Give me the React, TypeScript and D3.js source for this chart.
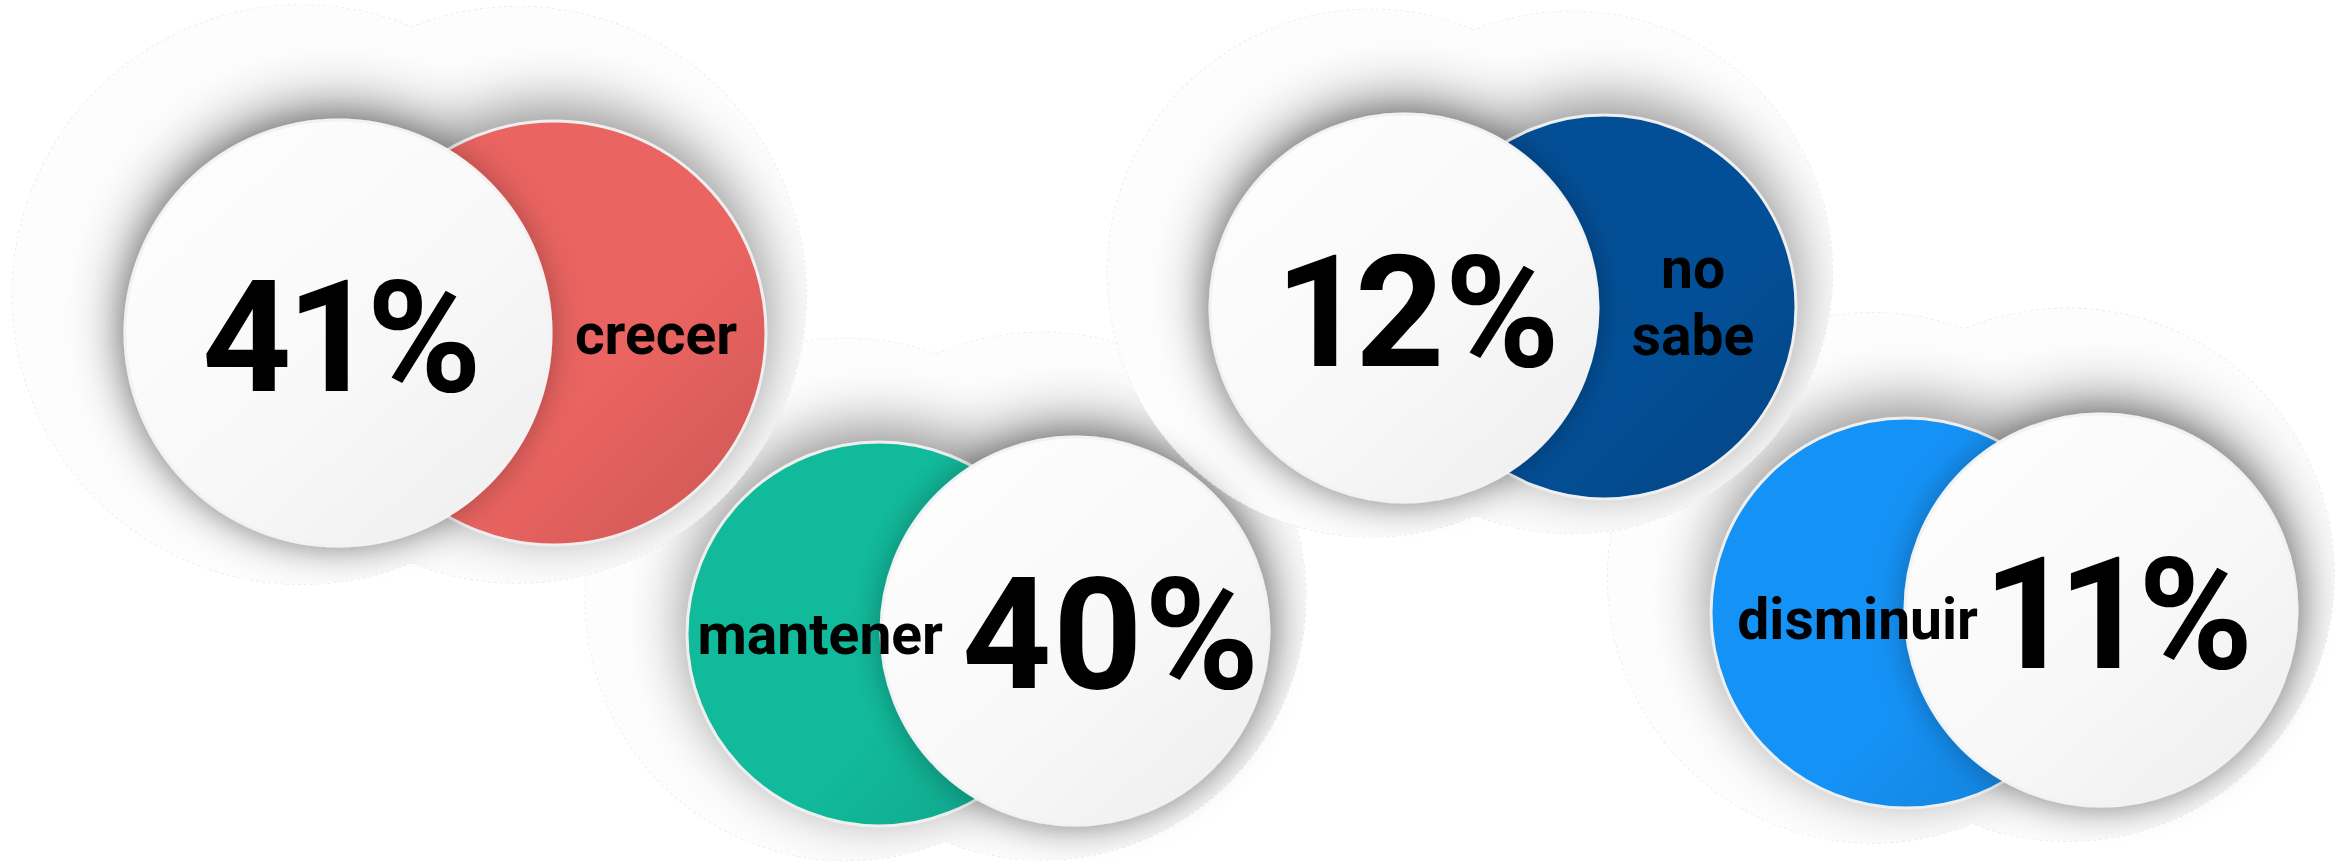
import React from "react";
import * as d3 from "d3";

const categories = ["crecer", "mantener", "no sabe", "disminuir"];
const values = [41, 40, 12, 11];
const seriesColors = ["#EA6461", "#12BA9C", "#034F97", "#1592F6"];

const W = 2351;
const H = 865;

// layout: colored circle [cx, cy, r], white circle [cx, cy, r], text placement
const layout = [
  { c: [554, 333, 212], w: [338, 333, 213], num: { x: 342, y: 391, anchor: "middle" }, label: { x: 656, ys: [354], anchor: "middle" } },
  { c: [879, 634, 192], w: [1075, 631, 194], num: { x: 962, y: 688, anchor: "start" }, label: { x: 943, ys: [654], anchor: "end" } },
  { c: [1604, 307, 192], w: [1404, 308, 194], num: { x: 1420, y: 366, anchor: "middle" }, label: { x: 1693, ys: [288, 355], anchor: "middle" } },
  { c: [1906, 613, 195], w: [2101, 610, 196], num: { x: 1988, y: 668, anchor: "start" }, label: { x: 1978, ys: [639], anchor: "end" } },
];
const haloOrder = [1, 3, 0, 2];

const fmt = (v: number) => d3.format("d")(v) + "%";
const halo = (cx: number, cy: number, r: number) => ({ x: cx - 0.17 * r, y: cy - 0.18 * r, r: 1.36 * r });

export default function App() {
  React.useEffect(() => {
    document.body.style.margin = "0";
  }, []);
  return (
    <svg width={W} height={H} style={{ position: "absolute", left: 0, top: 0, display: "block", background: "#fff" }}>
      <defs>
        <filter id="grpShadow" x="-60%" y="-60%" width="220%" height="220%">
          <feGaussianBlur stdDeviation="30" />
        </filter>
        <filter id="whiteShadow" x="-30%" y="-30%" width="160%" height="160%">
          <feDropShadow dx="0" dy="0" stdDeviation="16" floodColor="#000" floodOpacity="0.3" />
        </filter>
        <linearGradient id="whiteGrad" x1="0.15" y1="0.1" x2="0.9" y2="0.95">
          <stop offset="0" stopColor="#fdfdfd" />
          <stop offset="0.55" stopColor="#f8f8f8" />
          <stop offset="1" stopColor="#efefef" />
        </linearGradient>
        {seriesColors.map((col, i) => (
          <linearGradient key={i} id={`cg${i}`} x1="0.1" y1="0.1" x2="0.95" y2="0.95">
            <stop offset="0" stopColor={col} />
            <stop offset="0.6" stopColor={col} />
            <stop offset="1" stopColor={d3.color(col)!.darker(0.35).toString()} />
          </linearGradient>
        ))}
        {layout.map((g, i) => {
          const h1 = halo(g.c[0], g.c[1], g.c[2]);
          const h2 = halo(g.w[0], g.w[1], g.w[2]);
          return (
            <clipPath id={`hc${i}`} key={i}>
              <circle cx={h1.x} cy={h1.y} r={h1.r} />
              <circle cx={h2.x} cy={h2.y} r={h2.r} />
            </clipPath>
          );
        })}
      </defs>

      {haloOrder.map((i) => {
        const g = layout[i];
        const hs = [halo(g.c[0], g.c[1], g.c[2]), halo(g.w[0], g.w[1], g.w[2])];
        return (
          <g key={`halo${i}`}>
            {hs.map((h, k) => (
              <circle key={`s${k}`} cx={h.x} cy={h.y} r={h.r} fill="none" stroke="#e6e6e6" strokeWidth={1.2} strokeDasharray="3 3" />
            ))}
            {hs.map((h, k) => (
              <circle key={`f${k}`} cx={h.x} cy={h.y} r={h.r} fill="#fdfdfd" />
            ))}
            <g clipPath={`url(#hc${i})`}>
              <g filter="url(#grpShadow)" opacity={0.45} transform="translate(0,-14)">
                <circle cx={g.c[0]} cy={g.c[1]} r={g.c[2]} fill="#000" />
                <circle cx={g.w[0]} cy={g.w[1]} r={g.w[2]} fill="#000" />
              </g>
            </g>
          </g>
        );
      })}

      {layout.map((g, i) => (
        <g key={`grp${i}`}>
          <circle cx={g.c[0]} cy={g.c[1]} r={g.c[2]} fill={`url(#cg${i})`} stroke="#efefef" strokeWidth={3} />
          <circle cx={g.w[0]} cy={g.w[1]} r={g.w[2]} fill="url(#whiteGrad)" stroke="#f2f2f2" strokeWidth={3} filter="url(#whiteShadow)" />
          <text x={g.num.x} y={g.num.y} textAnchor={g.num.anchor} fontFamily="Roboto, 'Noto Sans', sans-serif" fontWeight={700} fontSize={156} fill="#000" style={{ fontVariantNumeric: "proportional-nums" }}>
            {fmt(values[i])}
          </text>
          {categories[i].split(" ").map((line, k) => (
            <text key={k} x={g.label.x} y={g.label.ys[k]} textAnchor={g.label.anchor} fontFamily="Roboto, 'Noto Sans', sans-serif" fontWeight={700} fontSize={57} fill="#000">
              {line}
            </text>
          ))}
        </g>
      ))}
    </svg>
  );
}
